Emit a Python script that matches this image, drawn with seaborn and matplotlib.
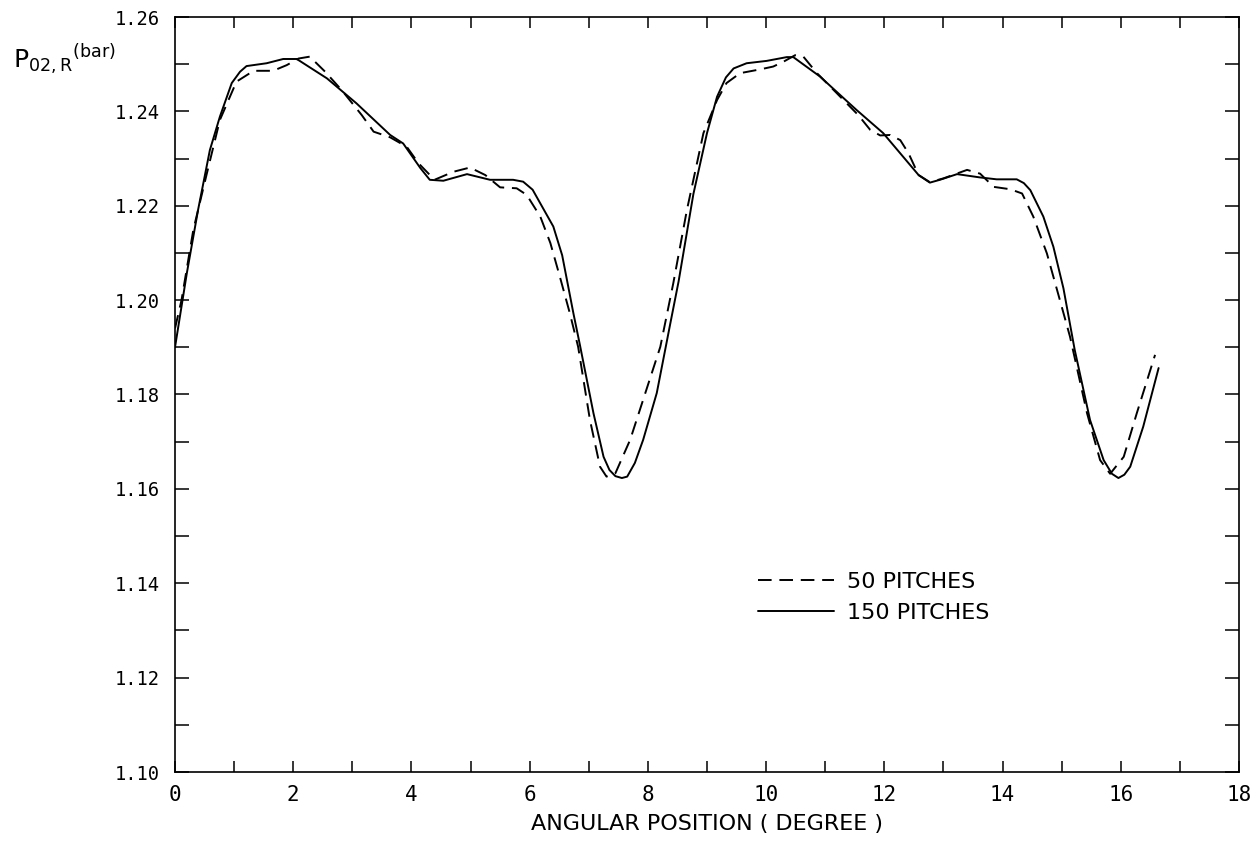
import matplotlib
matplotlib.use("Agg")
import matplotlib.pyplot as plt
from matplotlib.ticker import MultipleLocator, FormatStrFormatter
import seaborn as sns
import pandas as pd

# ---- data ----
x_150 = [0.00, 0.20, 0.39, 0.59, 0.76, 0.96, 1.10, 1.21, 1.55, 1.83, 2.06, 2.57,
         3.07, 3.64, 3.86, 4.15, 4.31, 4.54, 4.94, 5.33, 5.72, 5.89, 6.05, 6.18,
         6.40, 6.55, 6.74, 6.85, 7.08, 7.25, 7.35, 7.45, 7.56, 7.65, 7.78, 7.92,
         8.15, 8.38, 8.52, 8.77, 9.00, 9.17, 9.32, 9.45, 9.67, 10.01, 10.35, 10.46,
         10.91, 11.25, 11.53, 11.98, 12.27, 12.58, 12.77, 12.94, 13.23, 13.62,
         13.90, 14.24, 14.36, 14.47, 14.69, 14.86, 15.03, 15.22, 15.48, 15.71,
         15.85, 15.96, 16.06, 16.16, 16.38, 16.64]
y_150 = [1.1900, 1.2057, 1.2191, 1.2318, 1.2389, 1.2460, 1.2484, 1.2496, 1.2502,
         1.2511, 1.2511, 1.2470, 1.2417, 1.2350, 1.2332, 1.2280, 1.2255, 1.2253,
         1.2267, 1.2255, 1.2255, 1.2251, 1.2234, 1.2205, 1.2156, 1.2095, 1.1972,
         1.1905, 1.1760, 1.1668, 1.1640, 1.1627, 1.1623, 1.1626, 1.1655, 1.1704,
         1.1803, 1.1951, 1.2040, 1.2225, 1.2354, 1.2431, 1.2472, 1.2491, 1.2502,
         1.2507, 1.2515, 1.2515, 1.2474, 1.2435, 1.2403, 1.2354, 1.2311, 1.2265,
         1.2249, 1.2255, 1.2267, 1.2260, 1.2256, 1.2256, 1.2248, 1.2233, 1.2177,
         1.2113, 1.2025, 1.1895, 1.1746, 1.1661, 1.1632, 1.1623, 1.1630, 1.1647,
         1.1732, 1.1856]

x_50 = [0.00, 0.11, 0.31, 0.54, 0.76, 1.04, 1.33, 1.66, 1.89, 2.09, 2.28, 2.54,
        2.82, 3.16, 3.36, 3.64, 3.92, 4.12, 4.39, 4.71, 4.99, 5.25, 5.50, 5.78,
        5.95, 6.18, 6.35, 6.51, 6.68, 6.82, 7.02, 7.19, 7.30, 7.45, 7.70, 7.92,
        8.21, 8.43, 8.66, 8.94, 9.17, 9.33, 9.56, 9.90, 10.12, 10.29, 10.49,
        10.63, 10.86, 11.20, 11.56, 11.76, 11.93, 12.10, 12.27, 12.41, 12.58,
        12.77, 13.00, 13.40, 13.62, 13.85, 14.13, 14.33, 14.52, 14.75, 14.97,
        15.14, 15.43, 15.65, 15.82, 16.05, 16.27, 16.58]
y_50 = [1.1940, 1.2000, 1.2149, 1.2269, 1.2382, 1.2463, 1.2486, 1.2486, 1.2498,
        1.2512, 1.2516, 1.2484, 1.2445, 1.2392, 1.2357, 1.2345, 1.2325, 1.2290,
        1.2255, 1.2272, 1.2281, 1.2265, 1.2239, 1.2237, 1.2223, 1.2177, 1.2121,
        1.2050, 1.1972, 1.1901, 1.1746, 1.1647, 1.1626, 1.1633, 1.1704, 1.1789,
        1.1901, 1.2036, 1.2191, 1.2354, 1.2424, 1.2460, 1.2481, 1.2489, 1.2495,
        1.2505, 1.2519, 1.2516, 1.2481, 1.2438, 1.2392, 1.2361, 1.2349, 1.2350,
        1.2339, 1.2311, 1.2265, 1.2250, 1.2258, 1.2276, 1.2268, 1.2240, 1.2235,
        1.2226, 1.2177, 1.2099, 1.2000, 1.1923, 1.1760, 1.1661, 1.1632, 1.1668,
        1.1760, 1.1884]

labels = ["50 PITCHES", "150 PITCHES"]

df50 = pd.DataFrame({"x": x_50, "y": y_50})
df150 = pd.DataFrame({"x": x_150, "y": y_150})

sns.set_theme(style="white")
plt.rcParams["font.family"] = ["DejaVu Sans"]
for key in ["text.color", "axes.labelcolor", "xtick.color", "ytick.color"]:
    plt.rcParams[key] = "black"

fig = plt.figure(figsize=(12.59, 8.47), dpi=100)
ax = fig.add_axes([175 / 1259, 1 - 772 / 847, (1239 - 175) / 1259, (772 - 17) / 847])

sns.lineplot(data=df50, x="x", y="y", ax=ax, color="black", lw=1.4,
             estimator=None, label=labels[0])
ax.lines[-1].set_dashes((7, 4))
sns.lineplot(data=df150, x="x", y="y", ax=ax, color="black", lw=1.4,
             estimator=None, label=labels[1])

ax.set_xlim(0, 18)
ax.set_ylim(1.10, 1.26)
ax.xaxis.set_major_locator(MultipleLocator(2))
ax.xaxis.set_minor_locator(MultipleLocator(1))
ax.yaxis.set_major_locator(MultipleLocator(0.02))
ax.yaxis.set_minor_locator(MultipleLocator(0.01))
ax.yaxis.set_major_formatter(FormatStrFormatter("%.2f"))
ax.xaxis.set_major_formatter(FormatStrFormatter("%d"))

ax.tick_params(axis="x", which="both", direction="in", top=True, bottom=True,
               length=8, width=1.1, color="black", pad=9, labelcolor="black")
ax.tick_params(axis="y", which="both", direction="in", left=True, right=True,
               length=10, width=1.1, color="black", pad=11, labelcolor="black")
for lab in ax.get_xticklabels():
    lab.set_fontfamily("DejaVu Sans Mono")
    lab.set_fontsize(15)
for lab in ax.get_yticklabels():
    lab.set_fontfamily("DejaVu Sans Mono")
    lab.set_fontsize(13.5)

for sp in ax.spines.values():
    sp.set_color("black")
    sp.set_linewidth(1.2)

ax.set_xlabel("ANGULAR POSITION ( DEGREE )", fontsize=16, labelpad=7,
              color="black")
ax.set_ylabel(r"P$_{\mathregular{02,R}}$$^{\mathregular{(bar)}}$", fontsize=18,
              rotation=0, ha="left", va="baseline", color="black")
ax.yaxis.set_label_coords((13 - 175) / 1064, (772 - 68) / 755)

leg = ax.legend(loc="upper left", bbox_to_anchor=((758 - 175) / 1064, (772 - 572) / 755),
                frameon=False, fontsize=16, handlelength=3.4, handletextpad=0.6,
                labelspacing=0.5, borderpad=0, borderaxespad=0)
for line in leg.get_lines():
    line.set_linewidth(1.4)
leg.get_lines()[0].set_dashes((7, 4))
for t in leg.get_texts():
    t.set_color("black")

fig.savefig("out.png", dpi=100, facecolor="white")
